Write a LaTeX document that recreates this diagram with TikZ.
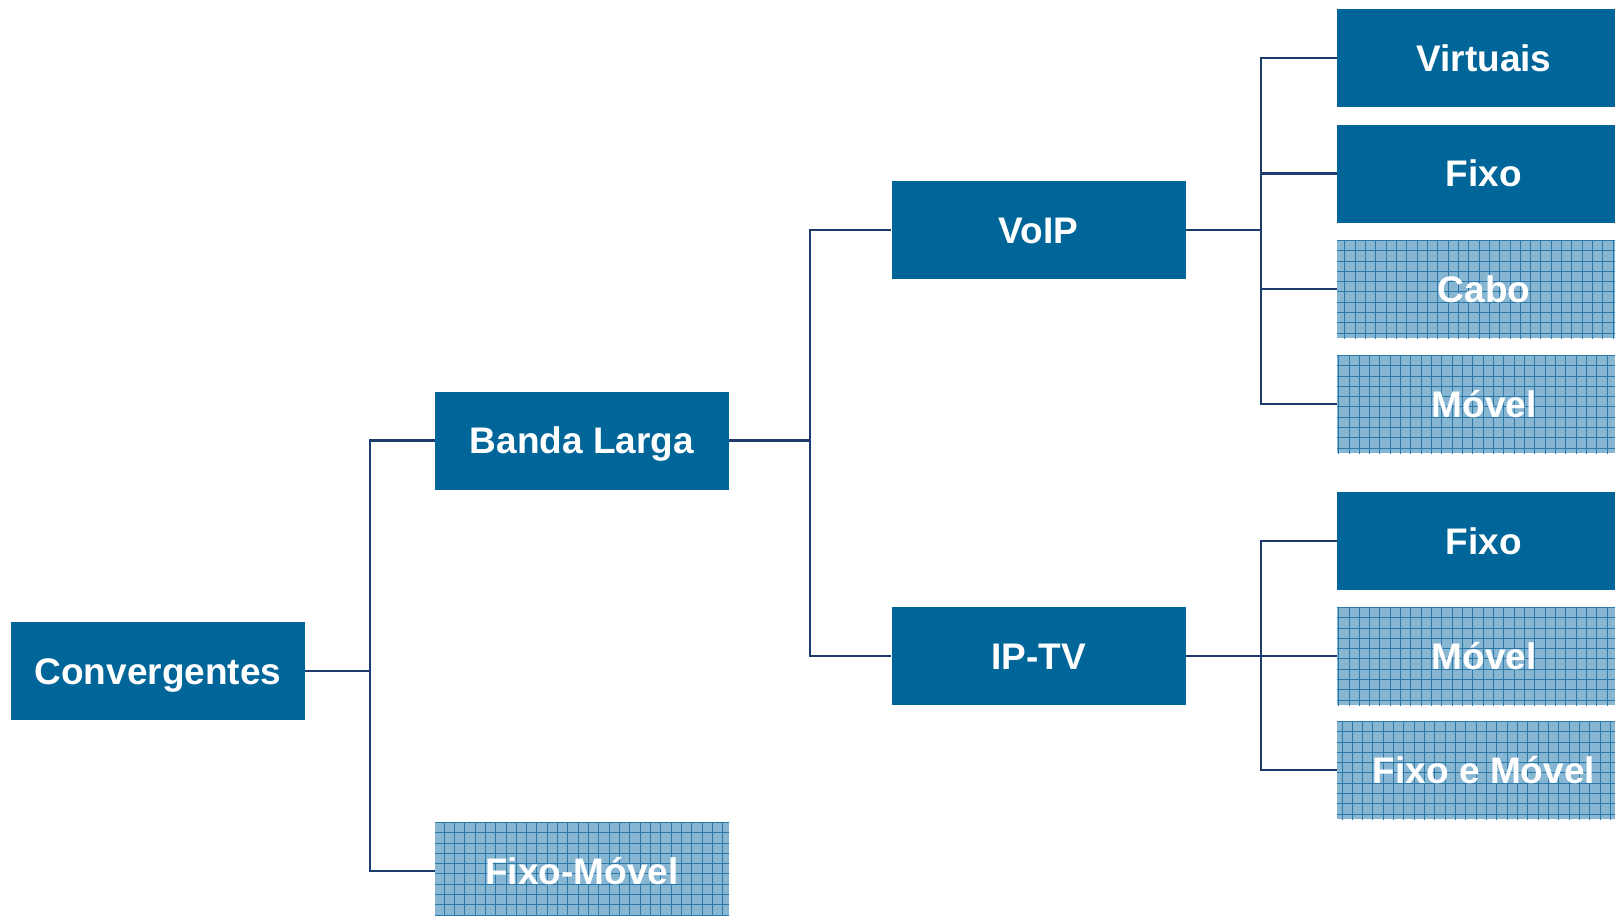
\documentclass[tikz,border=0pt]{standalone}
\usepackage{fontspec}
\setmainfont{Liberation Sans}
\begin{document}
\begin{tikzpicture}[x=0.5pt,y=-0.5pt,
  font=\fontsize{18.5}{22}\selectfont\bfseries,
  box/.style={fill=boxblue, text=white, minimum width=147pt, minimum height=49pt, inner sep=0pt, text height=13.3pt, text depth=0pt, anchor=center},
  hbox/.style={box, fill=hatchbg, path picture={
     \draw[gridline, line width=0.5pt] ([shift={(-10pt,-10pt)}]path picture bounding box.south west) grid[step=5.16pt] ([shift={(10pt,10pt)}]path picture bounding box.north east);}},
  conn/.style={draw=linecol, line width=1.4pt}]
\definecolor{boxblue}{RGB}{0,102,153}
\definecolor{hatchbg}{RGB}{134,182,210}
\definecolor{gridline}{RGB}{44,120,168}
\definecolor{linecol}{RGB}{27,60,108}
\useasboundingbox (0,0) rectangle (1615,915);
\clip (0,0) rectangle (1615,915);
% nodes
\node[box] (conv) at (158,671) {Convergentes};
\node[box] (bl) at (582,440.5) {Banda Larga};
\node[hbox] (fm) at (582,871) {Fixo-Móvel};
\node[box] (voip) at (1038.5,230) {VoIP};
\node[box] (iptv) at (1038.5,656) {IP-TV};
\node[box] (v1) at (1484,58) {Virtuais};
\node[box] (v2) at (1484,173.5) {Fixo};
\node[hbox] (v3) at (1484,289) {Cabo};
\node[hbox] (v4) at (1484,404) {Móvel};
\node[box] (i1) at (1484,541) {Fixo};
\node[hbox] (i2) at (1484,656) {Móvel};
\node[hbox] (i3) at (1484,770) {Fixo e Móvel};
% bus coordinates
\coordinate (b1) at (370,671);
\coordinate (b2) at (810,440.5);
\coordinate (b3) at (1261,230);
\coordinate (b4) at (1261,656);
% connectors
\draw[conn] (conv.east) -- (b1);
\draw[conn] (b1) |- (bl.west);
\draw[conn] (b1) |- (fm.west);
\draw[conn] (bl.east) -- (b2);
\draw[conn] (b2) |- (voip.west);
\draw[conn] (b2) |- (iptv.west);
\draw[conn] (voip.east) -- (b3);
\draw[conn] (b3) |- (v1.west);
\draw[conn] (b3) |- (v2.west);
\draw[conn] (b3) |- (v3.west);
\draw[conn] (b3) |- (v4.west);
\draw[conn] (iptv.east) -- (b4);
\draw[conn] (b4) |- (i1.west);
\draw[conn] (b4) -- (i2.west);
\draw[conn] (b4) |- (i3.west);
\end{tikzpicture}
\end{document}
